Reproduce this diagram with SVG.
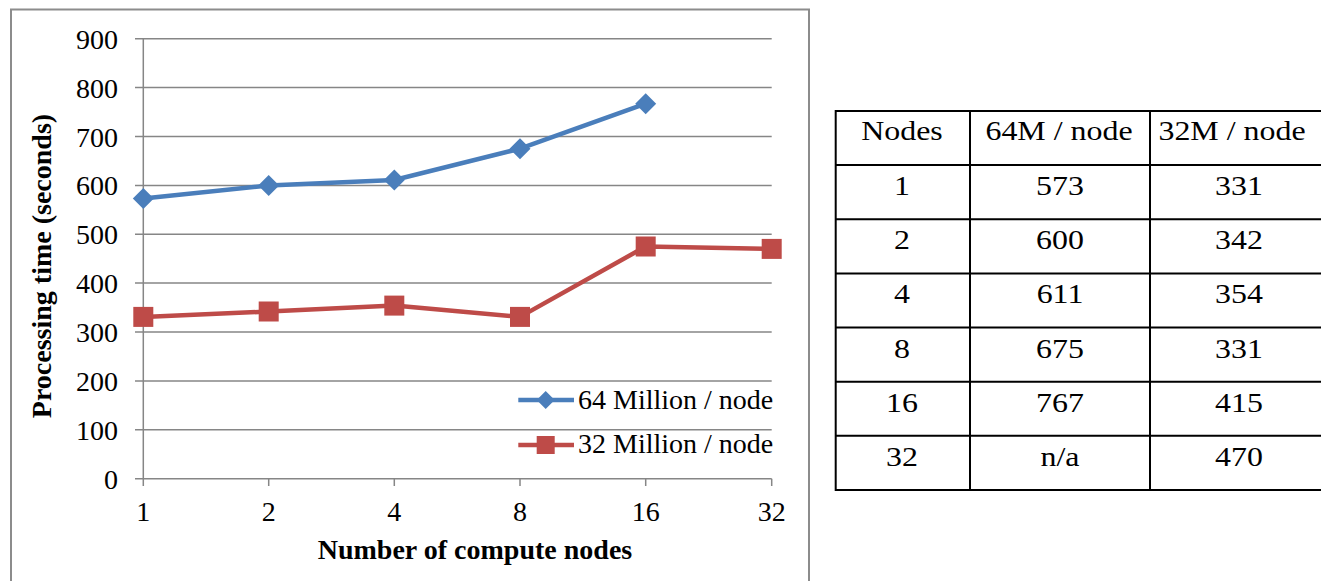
<svg xmlns="http://www.w3.org/2000/svg" width="1321" height="581" viewBox="0 0 1321 581">
<style>
.t{font-family:"Liberation Serif","Times New Roman",serif;font-size:28px;fill:#000}
.b{font-weight:bold}
.grid{stroke:#868686;stroke-width:1.5;fill:none}
.blue{stroke:#4a7ebb;stroke-width:4.5;fill:none;stroke-linejoin:round}
.red{stroke:#be4b48;stroke-width:4.5;fill:none;stroke-linejoin:round}
.tb{stroke:#000;stroke-width:2;fill:none}
</style>
<defs>
<path id="dia" d="M0,-10.5 L10.5,0 L0,10.5 L-10.5,0 Z" fill="#4a7ebb"/>
<rect id="sq" x="-10" y="-10" width="20" height="20" fill="#be4b48"/>
</defs>
<rect width="1321" height="581" fill="#fff"/>
<g id="chart">
<rect x="11" y="9.5" width="798" height="590" fill="#fff" stroke="#8c8c8c" stroke-width="2"/>
<g id="gridlines" class="grid">
<path d="M135,38.7H771.7M135,87.6H771.7M135,136.5H771.7M135,185.4H771.7M135,234.3H771.7M135,283.1H771.7M135,332H771.7M135,380.9H771.7M135,429.8H771.7M135,478.7H771.7"/>
<path d="M143.3,38.7V486M268.7,478.7V486M394.3,478.7V486M520,478.7V486M645.7,478.7V486M771.7,478.7V486"/>
</g>
<g id="yticks" class="t" text-anchor="end">
<text x="118" y="48.7">900</text>
<text x="118" y="97.6">800</text>
<text x="118" y="146.5">700</text>
<text x="118" y="195.4">600</text>
<text x="118" y="244.3">500</text>
<text x="118" y="293.1">400</text>
<text x="118" y="342">300</text>
<text x="118" y="390.9">200</text>
<text x="118" y="439.8">100</text>
<text x="118" y="488.7">0</text>
</g>
<g id="xticks" class="t" text-anchor="middle">
<text x="143.3" y="520.7">1</text>
<text x="268.7" y="520.7">2</text>
<text x="394.3" y="520.7">4</text>
<text x="520" y="520.7">8</text>
<text x="645.7" y="520.7">16</text>
<text x="771.7" y="520.7">32</text>
</g>
<text class="t b" x="475" y="559" text-anchor="middle">Number of compute nodes</text>
<text class="t b" transform="translate(51,266) rotate(-90)" text-anchor="middle">Processing time (seconds)</text>
<g id="series-64M">
<polyline class="blue" points="143.3,198.6 268.7,185.4 394.3,180 520,148.7 645.7,103.7"/>
<use href="#dia" x="143.3" y="198.6"/>
<use href="#dia" x="268.7" y="185.4"/>
<use href="#dia" x="394.3" y="180"/>
<use href="#dia" x="520" y="148.7"/>
<use href="#dia" x="645.7" y="103.7"/>
</g>
<g id="series-32M">
<polyline class="red" points="143.3,316.9 268.7,311.5 394.3,305.6 520,316.9 645.7,246.5 771.7,248.9"/>
<use href="#sq" x="143.3" y="316.9"/>
<use href="#sq" x="268.7" y="311.5"/>
<use href="#sq" x="394.3" y="305.6"/>
<use href="#sq" x="520" y="316.9"/>
<use href="#sq" x="645.7" y="246.5"/>
<use href="#sq" x="771.7" y="248.9"/>
</g>
<g id="legend">
<line class="blue" x1="518.3" y1="400" x2="574" y2="400"/>
<path d="M545.7,391 L554.7,400 L545.7,409 L536.7,400 Z" fill="#4a7ebb"/>
<text class="t" x="578" y="409">64 Million / node</text>
<line class="red" x1="518.3" y1="445" x2="574" y2="445"/>
<rect x="536.7" y="436" width="18" height="18" fill="#be4b48"/>
<text class="t" x="578" y="453.3">32 Million / node</text>
</g>
</g>
<g id="table">
<path class="tb" d="M835.7,111H1330M835.7,165.1H1330M835.7,219.3H1330M835.7,273.4H1330M835.7,327.6H1330M835.7,381.7H1330M835.7,435.8H1330M835.7,490H1330M835.7,110V491M970,110V491M1150,110V491"/>
<g class="t" text-anchor="middle">
<text transform="translate(902,140) scale(1.14,1)">Nodes</text>
<text transform="translate(1059,140) scale(1.14,1)">64M / node</text>
<text transform="translate(1232,140) scale(1.14,1)">32M / node</text>
<text transform="translate(902,195.1) scale(1.14,1)">1</text>
<text transform="translate(1060,195.1) scale(1.14,1)">573</text>
<text transform="translate(1239,195.1) scale(1.14,1)">331</text>
<text transform="translate(902,249.3) scale(1.14,1)">2</text>
<text transform="translate(1060,249.3) scale(1.14,1)">600</text>
<text transform="translate(1239,249.3) scale(1.14,1)">342</text>
<text transform="translate(902,303.4) scale(1.14,1)">4</text>
<text transform="translate(1060,303.4) scale(1.14,1)">611</text>
<text transform="translate(1239,303.4) scale(1.14,1)">354</text>
<text transform="translate(902,357.6) scale(1.14,1)">8</text>
<text transform="translate(1060,357.6) scale(1.14,1)">675</text>
<text transform="translate(1239,357.6) scale(1.14,1)">331</text>
<text transform="translate(902,411.7) scale(1.14,1)">16</text>
<text transform="translate(1060,411.7) scale(1.14,1)">767</text>
<text transform="translate(1239,411.7) scale(1.14,1)">415</text>
<text transform="translate(902,465.8) scale(1.14,1)">32</text>
<text transform="translate(1060,465.8) scale(1.14,1)">n/a</text>
<text transform="translate(1239,465.8) scale(1.14,1)">470</text>
</g>
</g>
</svg>
